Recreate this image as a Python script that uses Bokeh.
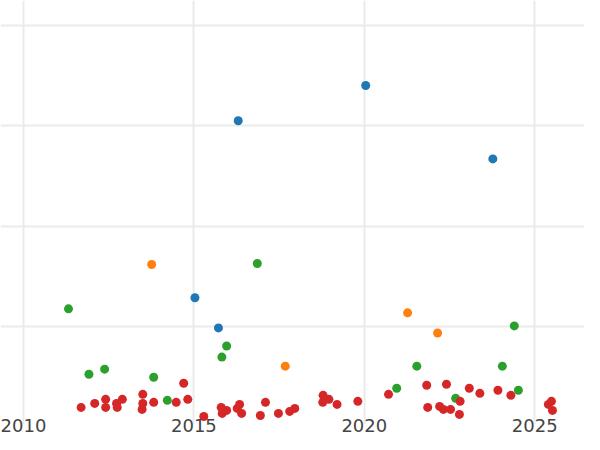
from bokeh.plotting import figure
from bokeh.models import Range1d, Grid, FixedTicker
from bokeh.embed import file_html
from bokeh.resources import INLINE

blue_x = [2020.04, 2016.30, 2023.77, 2015.03, 2015.72]
blue_y = [3.40, 3.05, 2.67, 1.29, 0.99]

orange_x = [2013.76, 2021.27, 2022.15, 2017.68]
orange_y = [1.62, 1.14, 0.94, 0.61]

green_x = [2011.32, 2016.86, 2024.40, 2015.96, 2015.82, 2011.92, 2012.38, 2013.82,
           2014.22, 2021.54, 2024.05, 2020.95, 2024.52, 2022.68]
green_y = [1.18, 1.63, 1.01, 0.81, 0.70, 0.53, 0.58, 0.50,
           0.27, 0.61, 0.61, 0.39, 0.37, 0.29]

red_x = [2011.69, 2012.09, 2012.41, 2012.41, 2012.73, 2012.75, 2012.90, 2013.50,
         2013.50, 2013.48, 2013.82, 2014.48, 2014.70, 2014.82, 2015.29, 2015.80,
         2015.83, 2015.96, 2016.27, 2016.34, 2016.40, 2016.95, 2017.10, 2017.48,
         2017.81, 2017.96, 2018.79, 2018.78, 2018.96, 2019.20, 2019.81, 2020.71,
         2021.83, 2022.41, 2023.08, 2023.39, 2023.92, 2024.30, 2021.86, 2022.21,
         2022.32, 2022.53, 2022.81, 2022.79, 2025.40, 2025.49, 2025.52]
red_y = [0.20, 0.24, 0.28, 0.20, 0.24, 0.20, 0.28, 0.33,
         0.24, 0.18, 0.25, 0.25, 0.44, 0.28, 0.11, 0.20,
         0.14, 0.17, 0.19, 0.23, 0.14, 0.12, 0.25, 0.14,
         0.16, 0.19, 0.32, 0.25, 0.28, 0.23, 0.26, 0.33,
         0.42, 0.43, 0.39, 0.34, 0.37, 0.32, 0.20, 0.21,
         0.18, 0.18, 0.26, 0.13, 0.23, 0.26, 0.17]

x_ticks = [2010, 2015, 2020, 2025]
y_grid_ticks = [1, 2, 3, 4]

p = figure(width=584, height=434, output_backend="svg", toolbar_location=None,
           y_axis_location=None, min_border=0,
           x_range=Range1d(2009.325, 2026.46), y_range=Range1d(0.03, 4.245))
p.outline_line_color = None
p.background_fill_color = "white"
p.border_fill_color = "white"

p.xaxis.ticker = FixedTicker(ticks=x_ticks)
p.xaxis.axis_line_color = None
p.xaxis.major_tick_line_color = None
p.xaxis.minor_tick_line_color = None
p.xaxis.major_tick_out = 0
p.xaxis.major_tick_in = 0
p.xaxis.major_label_text_font = "DejaVu Sans"
p.xaxis.major_label_text_font_size = "18px"
p.xaxis.major_label_text_color = "#444444"
p.xaxis.major_label_standoff = -6

p.xgrid.grid_line_color = "#ebebeb"
p.xgrid.grid_line_width = 2
p.ygrid.grid_line_color = None
p.add_layout(Grid(dimension=1, ticker=FixedTicker(ticks=y_grid_ticks),
                  grid_line_color="#ebebeb", grid_line_width=2))

for xs, ys, c in [(blue_x, blue_y, "#1f77b4"), (orange_x, orange_y, "#ff7f0e"),
                  (green_x, green_y, "#2ca02c"), (red_x, red_y, "#d62728")]:
    p.scatter(xs, ys, size=9, fill_color=c, line_color=None)

open("out.html", "w").write(file_html(p, INLINE))
